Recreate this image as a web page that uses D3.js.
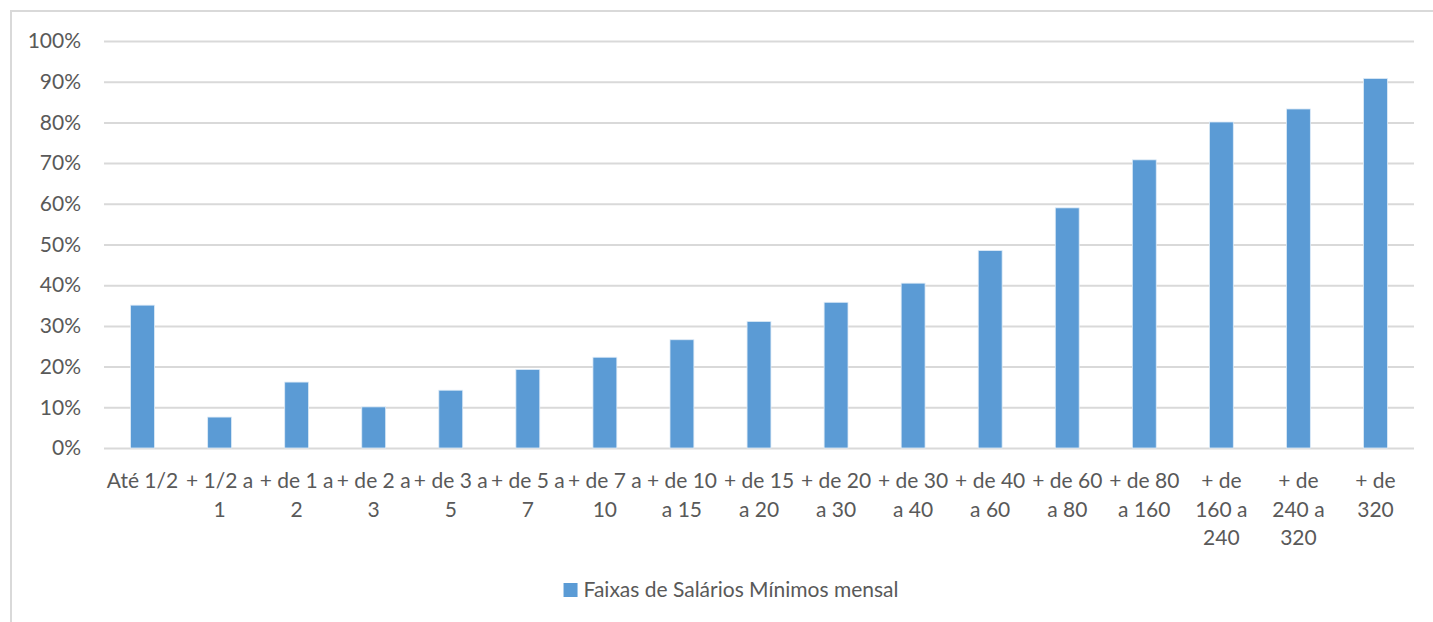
<!DOCTYPE html>
<html>
<head>
<meta charset="utf-8">
<script src="https://cdn.jsdelivr.net/npm/d3@7"></script>
<style>
  html, body { margin: 0; padding: 0; background: #fff; overflow: hidden; }
  svg { display: block; }
  text { font-family: Lato, "Open Sans", sans-serif; fill: #595959; }
</style>
</head>
<body>
<svg id="chart" width="1433" height="622"></svg>
<script>
// Faixas de salário mínimo mensal
const categories = [
  "Até 1/2", "+ 1/2 a 1", "+ de 1 a 2", "+ de 2 a 3", "+ de 3 a 5",
  "+ de 5 a 7", "+ de 7 a 10", "+ de 10 a 15", "+ de 15 a 20", "+ de 20 a 30",
  "+ de 30 a 40", "+ de 40 a 60", "+ de 60 a 80", "+ de 80 a 160",
  "+ de 160 a 240", "+ de 240 a 320", "+ de 320"
];
const values = [
  0.351, 0.076, 0.162, 0.101, 0.142, 0.193, 0.223, 0.266, 0.311,
  0.358, 0.405, 0.485, 0.590, 0.708, 0.801, 0.833, 0.908
];
const yTicks = [0, 0.1, 0.2, 0.3, 0.4, 0.5, 0.6, 0.7, 0.8, 0.9, 1.0];
const seriesName = "Faixas de Salários Mínimos mensal";

const svg = d3.select("#chart");
const W = 1433, H = 622;
const fontSize = 21;

// outer chart frame (open on the right and bottom edges of the page)
svg.append("rect")
  .attr("x", 11).attr("y", 11)
  .attr("width", W + 20).attr("height", H + 20)
  .attr("fill", "none").attr("stroke", "#d9d9d9").attr("stroke-width", 2);

const plot = { left: 104, right: 1414, top: 41, bottom: 448 };

const x = d3.scaleBand()
  .domain(categories)
  .range([plot.left, plot.right])
  .paddingInner(0.69)
  .paddingOuter(0.345);

const y = d3.scaleLinear().domain([0, 1]).range([plot.bottom, plot.top]);

// gridlines + y axis labels
const yAxis = d3.axisLeft(y)
  .tickValues(yTicks)
  .tickFormat(d3.format(".0%"))
  .tickSize(-(plot.right - plot.left))
  .tickPadding(23);

const gy = svg.append("g")
  .attr("transform", `translate(${plot.left},0)`)
  .call(yAxis);
gy.select(".domain").remove();
gy.selectAll(".tick line").attr("stroke", "#d9d9d9").attr("stroke-width", 2);
gy.selectAll(".tick text")
  .style("font-size", fontSize + "px")
  .attr("fill", "#595959");

// bars
svg.append("g").selectAll("rect")
  .data(values)
  .join("rect")
  .attr("x", (d, i) => x(categories[i]))
  .attr("y", d => y(d))
  .attr("width", x.bandwidth())
  .attr("height", d => y(0) - y(d))
  .attr("fill", "#5b9bd5")
  .attr("stroke", "#deebf7")
  .attr("stroke-width", 0.8);

// category axis labels, word-wrapped to the category width
const xAxis = d3.axisBottom(x).tickSize(0).tickPadding(0);
const gx = svg.append("g")
  .attr("transform", `translate(0,${plot.bottom})`)
  .call(xAxis);
gx.select(".domain").remove();

const wrapWidth = x.step() - 1;
const lineHeight = 28.7;
gx.selectAll(".tick text")
  .style("font-size", fontSize + "px")
  .attr("fill", "#595959")
  .each(function (d) {
    const t = d3.select(this);
    const words = d.split(" ");
    t.text(null);
    const lines = [];
    let cur = [];
    const probe = t.append("tspan");
    for (const w of words) {
      const trial = cur.concat([w]).join(" ");
      probe.text(trial);
      if (probe.node().getComputedTextLength() > wrapWidth && cur.length) {
        lines.push(cur.join(" "));
        cur = [w];
      } else {
        cur.push(w);
      }
    }
    lines.push(cur.join(" "));
    probe.remove();
    t.attr("y", null).attr("dy", null);
    lines.forEach((ln, k) => {
      t.append("tspan")
        .attr("x", 0)
        .attr("y", 40 + k * lineHeight)
        .text(ln);
    });
  });

// legend, centred under the plot
const legend = svg.append("g");
legend.append("rect")
  .attr("width", 14).attr("height", 14)
  .attr("fill", "#5b9bd5");
const legendText = legend.append("text")
  .attr("x", 20).attr("y", 7)
  .attr("dy", "0.35em")
  .style("font-size", fontSize + "px")
  .text(seriesName);
const legendW = 20 + legendText.node().getComputedTextLength();
legend.attr("transform", `translate(${731 - legendW / 2},583)`);
</script>
</body>
</html>
